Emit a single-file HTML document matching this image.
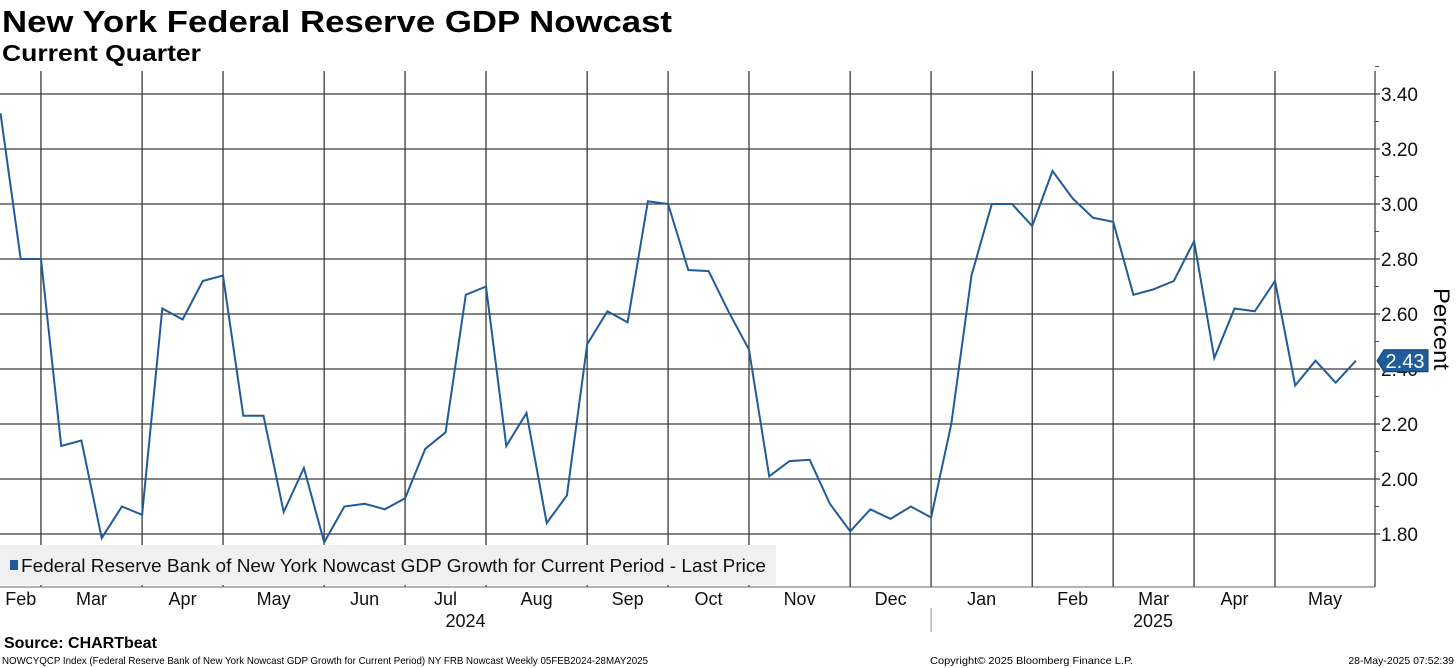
<!DOCTYPE html>
<html><head><meta charset="utf-8"><style>
html,body{margin:0;padding:0;background:#fff;}
svg{display:block;font-family:"Liberation Sans","DejaVu Sans",sans-serif;}
</style></head><body>
<svg id="chart" width="1456" height="668" viewBox="0 0 1456 668">
<text x="2" y="32" font-size="31" font-weight="bold" textLength="670" lengthAdjust="spacingAndGlyphs">New York Federal Reserve GDP Nowcast</text>
<text x="2" y="61" font-size="23" font-weight="bold" textLength="199" lengthAdjust="spacingAndGlyphs">Current Quarter</text>
<g id="grid"></g>
<rect x="0" y="545" width="776" height="40" fill="#f0f0f0"/>
<g id="marks"></g>
<g>
<rect x="10" y="560" width="8" height="10" fill="#1f5c99"/>
<text x="21" y="572" font-size="18" fill="#111" textLength="745" lengthAdjust="spacingAndGlyphs">Federal Reserve Bank of New York Nowcast GDP Growth for Current Period - Last Price</text>
</g>
<g id="xaxis"></g>
<g id="yaxis"></g>
<g>
<path id="lastbox" fill="#1f5c99" stroke="#0d3d70" stroke-width="1"/>
<text id="lasttext" x="1405" font-size="20" fill="#fff" text-anchor="middle"></text>
</g>
<text transform="translate(1434,329) rotate(90)" font-size="22" text-anchor="middle" textLength="82" lengthAdjust="spacingAndGlyphs">Percent</text>
<text x="4" y="648" font-size="16" font-weight="bold">Source: CHARTbeat</text>
<text x="2" y="664" font-size="10.5" textLength="646" lengthAdjust="spacingAndGlyphs">NOWCYQCP Index (Federal Reserve Bank of New York Nowcast GDP Growth for Current Period) NY FRB Nowcast  Weekly 05FEB2024-28MAY2025</text>
<text x="930" y="664" font-size="10.5" textLength="203" lengthAdjust="spacingAndGlyphs">Copyright© 2025 Bloomberg Finance L.P.</text>
<text x="1454" y="664" font-size="10.5" text-anchor="end">28-May-2025 07:52:39</text>
</svg>
<script>
const values = [3.33,2.80,2.80,2.12,2.14,1.785,1.90,1.87,2.62,2.58,2.72,2.74,2.23,2.23,1.88,2.04,1.77,1.90,1.91,1.89,1.93,2.11,2.17,2.67,2.70,2.12,2.24,1.84,1.94,2.49,2.61,2.57,3.01,3.00,2.76,2.756,2.607,2.47,2.01,2.065,2.07,1.91,1.81,1.89,1.855,1.90,1.86,2.20,2.74,3.00,3.00,2.92,3.12,3.02,2.95,2.935,2.67,2.69,2.72,2.865,2.44,2.62,2.61,2.72,2.34,2.43,2.35,2.43];
const monthLabels = ["Feb","Mar","Apr","May","Jun","Jul","Aug","Sep","Oct","Nov","Dec","Jan","Feb","Mar","Apr","May"];
const monthStartIdx = [0,2,7,11,16,20,24,29,33,37,42,46,51,55,59,63,68];
const yTicks = [1.80,2.00,2.20,2.40,2.60,2.80,3.00,3.20,3.40];
const years = ["2024","2025"];
const lastValue = 2.43;

const NS="http://www.w3.org/2000/svg";
const X0=0.5, STEP=20.23, TOP=71, BOT=587, RIGHT=1375;
const xs=i=>X0+i*STEP;
const ys=v=>94+(3.40-v)*275;
function mk(tag,attrs,parent){const e=document.createElementNS(NS,tag);for(const k in attrs)e.setAttribute(k,attrs[k]);parent.appendChild(e);return e;}
const grid=document.getElementById('grid'), marks=document.getElementById('marks'), xa=document.getElementById('xaxis'), ya=document.getElementById('yaxis');

yTicks.forEach(t=>{
  const l=mk('line',{x1:0,x2:RIGHT+5,y1:ys(t),y2:ys(t),stroke:'#3a3a3a','stroke-width':1.3},grid);
  
  
  const tx=mk('text',{x:RIGHT+6,y:ys(t)+7,'font-size':19,fill:'#111'},ya);
  
  
  tx.textContent=t.toFixed(2);
  const m=mk('line',{x1:RIGHT,x2:RIGHT+4,y1:ys(t+0.1),y2:ys(t+0.1),stroke:'#555','stroke-width':1},ya);
  
  
});
monthStartIdx.slice(1,-1).forEach(i=>{
  const l=mk('line',{x1:xs(i),x2:xs(i),y1:TOP,y2:BOT,stroke:'#3a3a3a','stroke-width':1.3},grid);
  
  
});
const ax=mk('line',{x1:RIGHT,x2:RIGHT,y1:TOP,y2:BOT,stroke:'#444','stroke-width':1.3},ya);


const bx=mk('line',{x1:0,x2:RIGHT,y1:BOT,y2:BOT,stroke:'#666','stroke-width':1},xa);



monthLabels.forEach((m,k)=>{
  const a=xs(monthStartIdx[k]), b=Math.min(xs(monthStartIdx[k+1]),RIGHT);
  const tx=mk('text',{x:(a+b)/2,y:605,'font-size':18,'text-anchor':'middle',fill:'#111'},xa);
  
  
  tx.textContent=m;
});
const yearSplit=xs(monthStartIdx[11]);
const y1=mk('text',{x:(0+yearSplit)/2,y:627,'font-size':18,'text-anchor':'middle',fill:'#111'},xa);


y1.textContent=years[0];
const y2=mk('text',{x:(yearSplit+RIGHT)/2,y:627,'font-size':18,'text-anchor':'middle',fill:'#111'},xa);


y2.textContent=years[1];
const ysep=mk('line',{x1:yearSplit,x2:yearSplit,y1:608,y2:632,stroke:'#999','stroke-width':1},xa);



const pts=values.map((v,i)=>xs(i).toFixed(1)+','+ys(v).toFixed(1)).join(' ');
const pl=mk('polyline',{points:pts,fill:'none',stroke:'#1f5c99','stroke-width':2,'stroke-linejoin':'miter'},marks);



const ly=ys(lastValue);
document.getElementById('lastbox').setAttribute('d',`M1377,${ly} L1384,${ly-11} L1428,${ly-11} L1428,${ly+11} L1384,${ly+11} Z`);
const lt=document.getElementById('lasttext');
lt.setAttribute('y',ly+7);
lt.textContent=lastValue.toFixed(2);
</script>
</body></html>
